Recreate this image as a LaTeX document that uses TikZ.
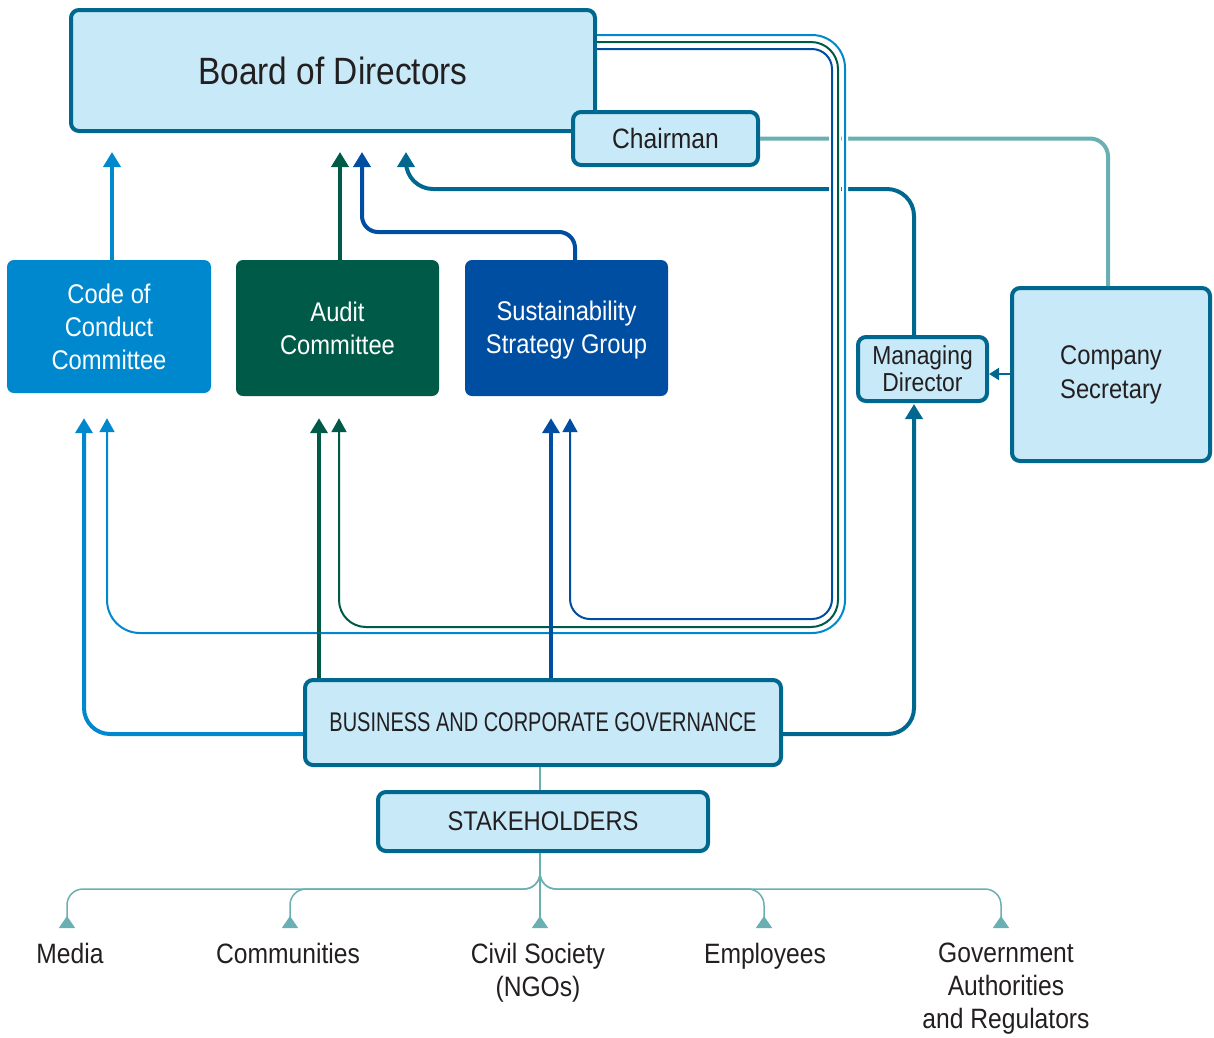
\documentclass[tikz,border=0pt]{standalone}
\usepackage{fontspec}
\setmainfont{Liberation Sans}[FakeStretch=0.88]
\newfontfamily\bcgfont{Liberation Sans}[FakeStretch=0.74]
\usetikzlibrary{arrows.meta}
\definecolor{boxfill}{HTML}{C8E9F8}
\definecolor{bord}{HTML}{00688F}
\definecolor{codeb}{HTML}{0088CF}
\definecolor{auditg}{HTML}{005A48}
\definecolor{sustb}{HTML}{004EA2}
\definecolor{lteal}{HTML}{6AAFB2}
\definecolor{txt}{HTML}{231F20}
\begin{document}
\begin{tikzpicture}[x=1pt,y=-1pt,
  lbox/.style={draw=bord, line width=4pt, fill=boxfill, rounded corners=8pt, text=txt, align=center, inner sep=0pt},
  cbox/.style={rounded corners=7pt, text=white, align=center, inner sep=0pt, font=\fontsize{27}{33}\selectfont},
  tk/.style={line width=4pt, -{Triangle[length=15pt,width=17pt]}},
  tn/.style={line width=2pt, -{Triangle[length=14pt,width=15pt]}, preaction={draw=white, line width=6pt, -}},
  lab/.style={text=txt, align=center, inner sep=0pt, anchor=north, font=\fontsize{28}{33}\selectfont},
  br/.style={draw=lteal, line width=1.5pt, rounded corners=16pt, -{Triangle[reversed,length=12pt,width=16pt]}, shorten >=15pt}
]
\useasboundingbox (0,0) rectangle (1214,1037);

% boxes
\node[lbox, minimum width=524pt, minimum height=121pt, font=\fontsize{38}{44}\selectfont] (board) at (333,70.5) {Board of Directors};
\node[lbox, minimum width=185pt, minimum height=53pt, font=\fontsize{28}{32}\selectfont] (chair) at (665.5,138.5) {Chairman};
\node[cbox, fill=codeb, minimum width=204pt, minimum height=133pt] (code) at (109,326.5) {Code of\\Conduct\\Committee};
\node[cbox, fill=auditg, minimum width=203pt, minimum height=136pt] (audit) at (337.5,328) {Audit\\Committee};
\node[cbox, fill=sustb, minimum width=203pt, minimum height=136pt] (sust) at (566.5,328) {\strut Sustainability\\Strategy Group};
\node[lbox, minimum width=129pt, minimum height=64pt, font=\fontsize{26}{27}\selectfont] (md) at (922.5,369) {Managing\\Director};
\node[lbox, minimum width=198pt, minimum height=173pt, font=\fontsize{27}{34}\selectfont] (cs) at (1111,374.5) {Company\\Secretary};
\node[lbox, minimum width=476pt, minimum height=85pt, font=\bcgfont\fontsize{27}{32}\selectfont] (bcg) at (543,722.5) {BUSINESS AND CORPORATE GOVERNANCE};
\node[lbox, minimum width=330pt, minimum height=59pt, font=\fontsize{27}{32}\selectfont] (stk) at (543,821.5) {STAKEHOLDERS};

% labels
\node[lab] (media) at (70,943) {Media};
\node[lab] (comm) at (288,943) {Communities};
\node[lab] (civil) at (538,943) {Civil Society\\(NGOs)};
\node[lab] (emp) at (765,943) {Employees};
\node[lab] (gov) at (1006,943) {Government\\Authorities\\and Regulators};

% committees to board
\draw[tk, draw=codeb, shorten >=19pt] (code.north -| 112,0) -- (board.south -| 112,0);
\draw[tk, draw=auditg, shorten >=19pt] (audit.north -| 340,0) -- (board.south -| 340,0);
\draw[tk, draw=sustb, shorten >=19pt, rounded corners=16pt] (sust.north -| 575,0) |- (362,232) -- (board.south -| 362,0);

% chairman - company secretary
\draw[draw=lteal, line width=4pt, rounded corners=18pt] (chair.east) -| (cs.north -| 1108,0);
% managing director to board
\draw[tk, draw=bord, shorten >=19pt, rounded corners=27pt] (md.north -| 914,0) |- (406,189) -- (board.south -| 406,0);
% company secretary to managing director
\draw[draw=bord, line width=2pt, -{Triangle[length=10pt,width=12pt]}] (cs.west |- 0,374) -- (md.east |- 0,374);

% thin loops from board
\draw[tn, draw=codeb, rounded corners=33pt, shorten >=25pt] (board.east |- 0,35) -- (845,35) -- (845,633) -- (107,633) -- (code.south -| 107,0);
\draw[tn, draw=auditg, rounded corners=27pt, shorten >=22pt] (board.east |- 0,42) -- (838,42) -- (838,627) -- (339,627) -- (audit.south -| 339,0);
\draw[tn, draw=sustb, rounded corners=20pt, shorten >=22pt] (board.east |- 0,49) -- (832,49) -- (832,619) -- (570,619) -- (sust.south -| 570,0);

% business and corporate governance arrows
\draw[tk, draw=codeb, rounded corners=26pt, shorten >=25pt] (bcg.west |- 0,734) -| (code.south -| 84,0);
\draw[tk, draw=auditg, shorten >=22pt] (bcg.north -| 319,0) -- (audit.south -| 319,0);
\draw[tk, draw=sustb, shorten >=22pt] (bcg.north -| 551,0) -- (sust.south -| 551,0);
\draw[tk, draw=bord, rounded corners=26pt, shorten >=1pt] (bcg.east |- 0,734) -| (md.south -| 914,0);

% stakeholders tree
\draw[draw=lteal, line width=1.5pt] (bcg.south -| 540,0) -- (stk.north -| 540,0);
\draw[br] (stk.south -| 540,0) |- (67,889) -- (media.north -| 67,0);
\draw[br] (stk.south -| 540,0) |- (290,889) -- (comm.north -| 290,0);
\draw[br] (stk.south -| 540,0) -- (civil.north -| 540,0);
\draw[br] (stk.south -| 540,0) |- (764,889) -- (emp.north -| 764,0);
\draw[br] (stk.south -| 540,0) |- (1001,889) -- (gov.north -| 1001,0);
\end{tikzpicture}
\end{document}
